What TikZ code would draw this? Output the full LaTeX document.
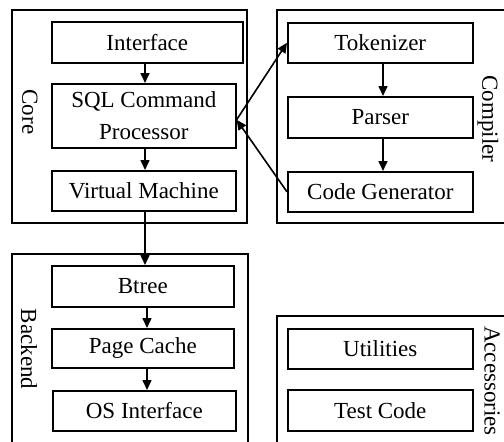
\documentclass[tikz,border=0pt]{standalone}
\usepackage{fontspec}
\setmainfont{Liberation Serif}
\usetikzlibrary{arrows.meta}
\begin{document}
\begin{tikzpicture}[x=1pt,y=-1pt,
  box/.style={draw, line width=1.6pt, inner sep=0pt, anchor=north west, align=center,
    font=\fontsize{23}{32}\selectfont},
  group/.style={draw, line width=1.8pt, inner sep=0pt, anchor=north west},
  grouplabel/.style={rotate=-90, inner sep=0pt, font=\fontsize{23}{27}\selectfont},
  arr/.style={line width=1.6pt, -{Triangle[length=10pt,width=9pt]}}]
\useasboundingbox (0,0) rectangle (504,442);
\clip (0,0) rectangle (504,442);
% groups
\node[group, minimum width=235, minimum height=213] (core) at (11,9) {};
\node[group, minimum width=240, minimum height=213] (compiler) at (276,9) {};
\node[group, minimum width=236, minimum height=210] (backend) at (11,253) {};
\node[group, minimum width=240, minimum height=150] (acc) at (276,315) {};
% group labels
\node[grouplabel] (corelbl) at (30,112) {Core};
\node[grouplabel] (complbl) at (488,119) {Compiler};
\node[grouplabel] (backlbl) at (29,349) {Backend};
\node[grouplabel] (acclbl) at (492,381) {Accessories};
% inner boxes
\node[box, minimum width=191, minimum height=41] (iface) at (51,21) {Interface};
\node[box, minimum width=184, minimum height=64] (sql) at (51,83) {SQL Command\\Processor};
\node[box, minimum width=184, minimum height=40] (vm) at (51,170) {Virtual Machine};
\node[box, minimum width=185, minimum height=40] (tok) at (287,22) {Tokenizer};
\node[box, minimum width=185, minimum height=41] (parser) at (287,96) {Parser};
\node[box, minimum width=185, minimum height=40] (codegen) at (287,171) {Code Generator};
\node[box, minimum width=182, minimum height=41] (btree) at (51,265) {Btree};
\node[box, minimum width=182, minimum height=39] (pcache) at (51,328) {Page Cache};
\node[box, minimum width=183, minimum height=40] (osif) at (52,390) {OS Interface};
\node[box, minimum width=185, minimum height=40] (util) at (287,328) {Utilities};
\node[box, minimum width=185, minimum height=41] (test) at (287,389) {Test Code};
% arrow columns
\coordinate (cx) at (145,0);
\coordinate (bx) at (147,0);
\coordinate (kx) at (383,0);
\coordinate (junc) at ([yshift=-4pt]sql.east);
% connectors
\draw[arr] (iface.south -| cx) -- (sql.north -| cx);
\draw[arr] (sql.south -| cx) -- (vm.north -| cx);
\draw[arr] (vm.south -| cx) -- (btree.north -| cx);
\draw[arr] (btree.south -| bx) -- (pcache.north -| bx);
\draw[arr] (pcache.south -| bx) -- (osif.north -| bx);
\draw[arr] (tok.south -| kx) -- (parser.north -| kx);
\draw[arr] (parser.south -| kx) -- (codegen.north -| kx);
\draw[arr] (junc) -- (tok.west);
\draw[arr] (codegen.west) -- (junc);
\end{tikzpicture}
\end{document}
